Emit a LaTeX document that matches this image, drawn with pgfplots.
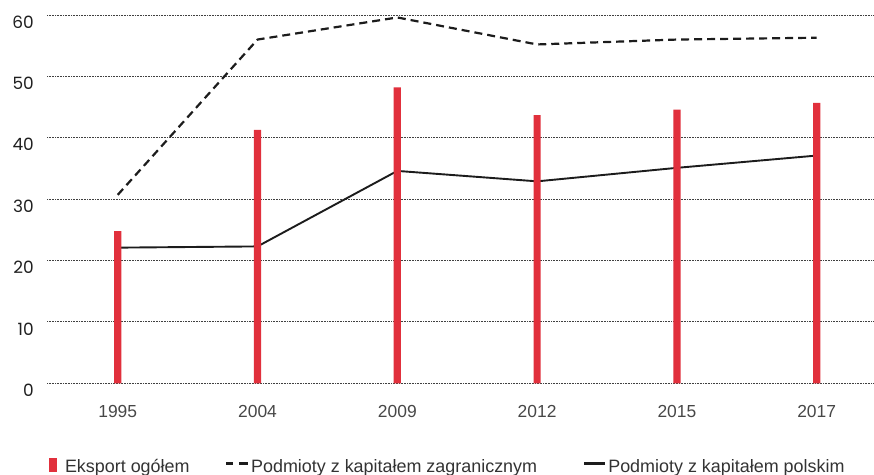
\documentclass[border=0pt]{standalone}
\usepackage{fontspec}
\usepackage{pgfplots}
\pgfplotsset{compat=1.18}
\setmainfont{Liberation Sans}
\newfontfamily\tickfont{Poppins}
\definecolor{barred}{RGB}{225,48,60}
\definecolor{linek}{RGB}{28,28,28}

\begin{document}
\begin{tikzpicture}
\useasboundingbox (0,0) rectangle (874bp,475bp);
\begin{axis}[
  at={(47bp,91.7bp)}, anchor=south west,
  scale only axis, width=827bp, height=368.3bp,
  xmin=-0.506, xmax=5.41, ymin=0, ymax=60,
  axis line style={draw=none},
  ytick={0,10,...,60},
  xtick={0,...,5},
  xticklabels={1995,2004,2009,2012,2015,2017},
  tick style={draw=none},
  ymajorgrids,
  grid style={dash pattern=on 0.8bp off 0.8bp, line width=0.9bp, color=black!75},
  /pgf/number format/assume math mode=true,
  yticklabel style={font=\tickfont\fontsize{17}{17}\selectfont, text=black!88, anchor=east, inner sep=0pt, xshift=-13bp, yshift=-7bp},
  xticklabel style={font=\fontsize{17.5}{17.5}\selectfont, text=black!72, anchor=north, inner sep=0pt, yshift=-21.7bp},
  legend columns=3,
  legend cell align=left,
  legend style={at={(0.00242,-0.2028)}, anchor=north west, draw=none, fill=none,
    inner sep=0pt, outer sep=0pt, column sep=0pt, row sep=0pt,
    nodes={inner sep=0pt, outer sep=0pt},
    font=\fontsize{18}{18}\selectfont, text=black!80},
]
\addlegendimage{legend image code/.code={\fill[barred, draw=none] (0bp,-5.7bp) rectangle (7.7bp,8.3bp); \path[draw=none, fill=none] (0bp,0bp) -- (16bp,0bp);}}
\addlegendentry{\makebox[160bp][l]{Eksport ogółem}}
\addlegendimage{legend image code/.code={\draw[linek, line width=2.2bp, solid] (0bp,2.8bp) -- (7bp,2.8bp); \draw[linek, line width=2.2bp, solid] (13bp,2.8bp) -- (22bp,2.8bp); \path[draw=none, fill=none] (0bp,0bp) -- (25bp,0bp);}}
\addlegendentry{\makebox[331.7bp][l]{Podmioty z kapitałem zagranicznym}}
\addlegendimage{legend image code/.code={\draw[linek, line width=2.4bp, solid] (0bp,2.8bp) -- (21bp,2.8bp); \path[draw=none, fill=none] (0bp,0bp) -- (24.3bp,0bp);}}
\addlegendentry{Podmioty z kapitałem polskim}

% Podmioty z kapitałem zagranicznym
\addplot[forget plot, linek, line width=2.2bp, dash pattern=on 8bp off 5bp, line join=round] coordinates {
 (0,30.7) (1,56.0) (2,59.6) (3,55.2) (4,56.0) (5,56.3)
};
% Podmioty z kapitałem polskim
\addplot[forget plot, linek, line width=1.9bp, line join=round] coordinates {
 (0,22.1) (1,22.3) (2,34.6) (3,32.9) (4,35.1) (5,37.1)
};
% Eksport ogółem
\addplot[forget plot, ybar, bar width=7.2bp, fill=barred, draw=none] coordinates {
 (0,24.8) (1,41.3) (2,48.2) (3,43.7) (4,44.6) (5,45.7)
};
\end{axis}
\end{tikzpicture}
\end{document}
